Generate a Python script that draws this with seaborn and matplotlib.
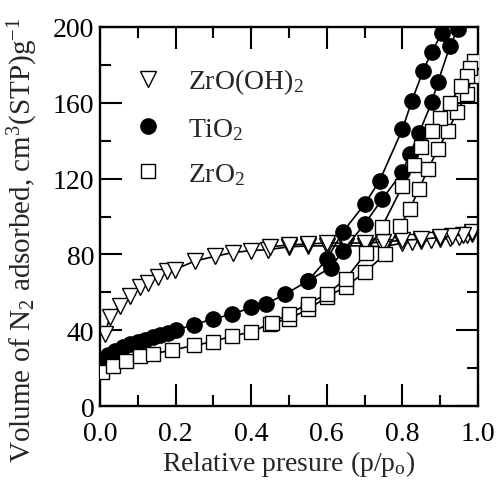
import matplotlib
matplotlib.use("Agg")
import matplotlib.pyplot as plt
import seaborn as sns
import pandas as pd
from matplotlib.lines import Line2D
from matplotlib.ticker import MultipleLocator

sns.set_style("ticks")
plt.rcParams['font.family'] = ['Liberation Serif', 'DejaVu Serif']
plt.rcParams['mathtext.fontset'] = 'custom'
plt.rcParams['mathtext.rm'] = 'Liberation Serif'
plt.rcParams['mathtext.it'] = 'Liberation Serif:italic'

# ZrO(OH)2 adsorption / desorption
zoh_ads_x = [0.013, 0.026, 0.053, 0.079, 0.106, 0.127, 0.153, 0.177, 0.198, 0.251, 0.304,
             0.352, 0.40, 0.444, 0.50, 0.55, 0.60, 0.65, 0.70, 0.75, 0.80, 0.825, 0.85,
             0.875, 0.90, 0.925, 0.95, 0.97, 0.985]
zoh_ads_y = [38, 47, 53, 58, 63, 65, 68, 71, 72, 76.5, 79, 81, 82, 82.5, 84, 84.5, 84.5,
             84.5, 84.5, 84, 86, 86.5, 87, 87.5, 88, 88.5, 89, 90, 91]
zoh_des_x = [0.985, 0.96, 0.93, 0.90, 0.85, 0.80, 0.75, 0.70, 0.65, 0.60, 0.55, 0.50, 0.45]
zoh_des_y = [92, 90.5, 89.5, 89, 88, 87.5, 86.5, 86, 86, 86, 85.5, 85, 84]

# TiO2 adsorption / desorption
ti_ads_x = [0.005, 0.02, 0.04, 0.06, 0.08, 0.10, 0.12, 0.14, 0.16, 0.18, 0.20, 0.25, 0.30,
            0.35, 0.40, 0.44, 0.49, 0.55, 0.61, 0.643, 0.70, 0.746, 0.80, 0.82, 0.844,
            0.878, 0.894, 0.926, 0.947]
ti_ads_y = [24, 27, 29, 31, 32.5, 34, 35, 36.5, 37.5, 38.5, 40, 43, 46, 48.5, 52, 54, 59,
            66, 73, 82, 96, 109, 123.5, 133, 144, 160.5, 171, 190, 199]
ti_des_x = [0.905, 0.878, 0.855, 0.825, 0.80, 0.74, 0.70, 0.643, 0.60, 0.55]
ti_des_y = [197, 187, 177, 161, 146, 119, 106.5, 92, 77.5, 66]

# ZrO2 adsorption / desorption
zr_ads_x = [0.005, 0.035, 0.07, 0.105, 0.14, 0.19, 0.25, 0.30, 0.35, 0.40, 0.45, 0.50,
            0.55, 0.60, 0.65, 0.70, 0.754, 0.794, 0.82, 0.844, 0.868, 0.894, 0.92, 0.944,
            0.97, 0.985]
zr_ads_y = [18, 21, 24, 26.5, 27.5, 29.5, 32, 34, 37, 39, 43.5, 46, 51, 57.5, 63, 70.5,
            80, 95, 104, 114.5, 125, 135.5, 145, 155, 164.5, 174]
zr_des_x = [0.99, 0.98, 0.97, 0.955, 0.926, 0.90, 0.878, 0.85, 0.83, 0.80, 0.746, 0.705,
            0.65, 0.60, 0.55, 0.50, 0.455]
zr_des_y = [182, 178.5, 174, 169, 160, 152, 145, 136.5, 127, 116, 94.5, 81, 67, 59, 54,
            48.5, 44]

labels = ["ZrO(OH)$_\\mathrm{2}$", "TiO$_\\mathrm{2}$", "ZrO$_\\mathrm{2}$"]
xticks = [0.0, 0.2, 0.4, 0.6, 0.8, 1.0]
xticklabels = ["0.0", "0.2", "0.4", "0.6", "0.8", "1.0"]

fig = plt.figure(figsize=(4.99, 4.81), dpi=100)
ax = fig.add_axes([0.2004, 0.1538, 0.7575, 0.788])

def branch(x, y, marker, face, size, z):
    df = pd.DataFrame({"x": x, "y": y})
    sns.lineplot(data=df, x="x", y="y", sort=False, estimator=None, ax=ax,
                 color="black", linewidth=1.2, marker=marker, markersize=size,
                 markerfacecolor=face, markeredgecolor="black", markeredgewidth=1.0,
                 zorder=z)

branch(zoh_ads_x, zoh_ads_y, "v", "white", 11, 2)
branch(zoh_des_x, zoh_des_y, "v", "white", 11, 2)
branch(ti_ads_x, ti_ads_y, "o", "black", 11, 3)
branch(ti_des_x, ti_des_y, "o", "black", 11, 3)
branch(zr_ads_x, zr_ads_y, "s", "white", 10, 4)
branch(zr_des_x, zr_des_y, "s", "white", 10, 4)

ax.set_xlim(0, 1.0)
ax.set_ylim(0, 200)
ax.set_xticks(xticks)
ax.set_xticklabels(xticklabels)
ax.xaxis.set_minor_locator(MultipleLocator(0.1))
ax.yaxis.set_major_locator(MultipleLocator(40))
ax.yaxis.set_minor_locator(MultipleLocator(20))
ax.tick_params(which="both", direction="in", top=True, right=True, labelsize=20,
               width=1.5, colors="black")
ax.tick_params(which="major", length=15.5)
ax.tick_params(which="minor", length=8)
ax.tick_params(axis="x", which="major", pad=11)
ax.tick_params(axis="y", which="major", pad=4)
for s in ax.spines.values():
    s.set_linewidth(1.7)
    s.set_color("black")

ax.set_xlabel("Relative presure (p/p$_\\mathrm{o}$)", fontsize=20, labelpad=1)
ax.set_ylabel("Volume of N$_\\mathrm{2}$ adsorbed, cm$^\\mathrm{3}$(STP)g$^\\mathrm{-1}$",
              fontsize=21)
ax.yaxis.set_label_coords(-0.16, 0.44)

handles = [
    Line2D([], [], linestyle="none", marker="v", markersize=11, markerfacecolor="white",
           markeredgecolor="black", markeredgewidth=1.0),
    Line2D([], [], linestyle="none", marker="o", markersize=11, markerfacecolor="black",
           markeredgecolor="black"),
    Line2D([], [], linestyle="none", marker="s", markersize=10, markerfacecolor="white",
           markeredgecolor="black", markeredgewidth=1.0),
]
ax.legend(handles, labels, loc="upper left", bbox_to_anchor=(0.06, 0.925), frameon=False,
          fontsize=20, handlelength=1.0, handletextpad=0.95, labelspacing=0.7,
          borderaxespad=0)

fig.savefig("out.png", dpi=100)
